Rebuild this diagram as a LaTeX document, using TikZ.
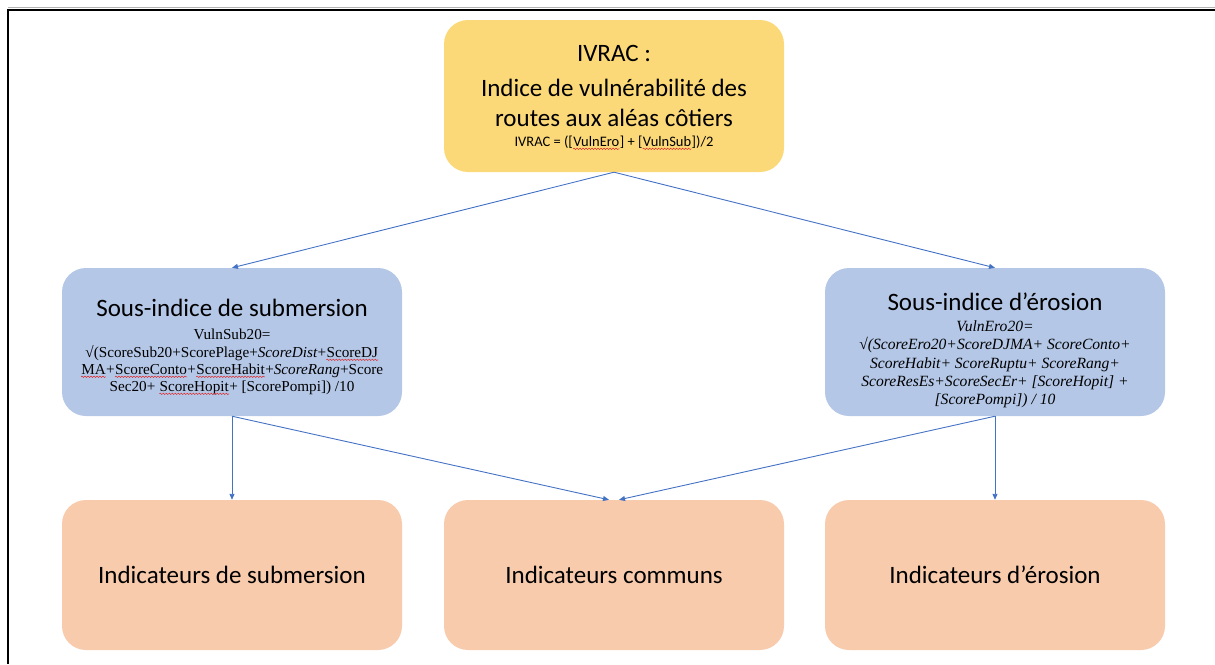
\documentclass[tikz,border=0pt]{standalone}
\usepackage{fontspec}
\setmainfont{Carlito}
\newfontfamily\formulafont{Liberation Serif}
\usetikzlibrary{arrows.meta,decorations.pathmorphing}
\definecolor{boxyellow}{RGB}{251,217,120}
\definecolor{boxblue}{RGB}{180,199,231}
\definecolor{boxorange}{RGB}{248,203,173}
\definecolor{linkblue}{RGB}{68,114,196}
\definecolor{spellred}{RGB}{220,40,40}
% red wavy underline for flagged words
\newcommand\redwave[1]{\tikz[baseline=(w.base),x=1pt,y=1pt]{\node[inner sep=0pt,anchor=base] (w) {#1};
  \draw[spellred, line width=0.5pt, decorate, decoration={snake,amplitude=0.7pt,segment length=3pt}]
    ([yshift=-2.8pt]w.base west) -- ([yshift=-2.8pt]w.base east);}}
\tikzset{
  box/.style={rounded corners=24pt, minimum width=340pt, inner sep=0pt},
  topbox/.style={box, fill=boxyellow, minimum height=152pt},
  subbox/.style={box, fill=boxblue, minimum height=148pt},
  indbox/.style={box, fill=boxorange, minimum height=150pt},
  title/.style={font=\fontsize{25}{28}\selectfont, inner sep=0pt, anchor=base},
  formula/.style={font=\formulafont\fontsize{15.2}{17}\selectfont, inner sep=0pt, anchor=base},
  iformula/.style={formula, font=\formulafont\itshape\fontsize{15.6}{17}\selectfont},
  link/.style={draw=linkblue, line width=0.9pt, -{Triangle[length=6pt,width=5pt]}}
}
\begin{document}
\begin{tikzpicture}[x=1pt,y=-1pt]
\useasboundingbox (0,0) rectangle (1215,664);
% page frame, top and left edges only
\draw[gray!60, line width=1pt] (8,7.5) -- (1215,7.5);
\draw[black, line width=2pt] (8,664) -- (8,9.5) -- (1215,9.5);

% boxes
\node[topbox] (ivrac) at (614,96) {};
\node[subbox] (sub) at (232,342) {};
\node[subbox] (ero) at (995,342) {};
\node[indbox] (indsub) at (232,575) {};
\node[indbox] (indcom) at (614,575) {};
\node[indbox] (indero) at (995,575) {};

% top box text
\node[title] (t1) at (614,61) {IVRAC :};
\node[title] (t2) at (614,96) {Indice de vulnérabilité des};
\node[title] (t3) at (614,126) {routes aux aléas côtiers};
\node[font=\fontsize{14.5}{16}\selectfont, inner sep=0pt, anchor=base] (t4) at (614,146) {IVRAC = ([\redwave{VulnEro}] + [\redwave{VulnSub}])/2};

% submersion sub-index text
\node[title] (s1) at (232,316) {Sous-indice de submersion};
\node[formula] (s2) at (232,339) {VulnSub20=};
\node[formula] (s3) at (232,357) {√(ScoreSub20+ScorePlage+\textit{ScoreDist}+\redwave{ScoreDJ}};
\node[formula] (s4) at (232,374) {\redwave{MA}+\redwave{ScoreConto}+\redwave{ScoreHabit}+\textit{ScoreRang}+Score};
\node[formula] (s5) at (232,391) {Sec20+ \redwave{ScoreHopit}+ [ScorePompi]) /10};

% erosion sub-index text
\node[title] (e1) at (995,310) {Sous-indice d’érosion};
\node[iformula] (e2) at (995,331) {VulnEro20=};
\node[iformula] (e3) at (995,349) {√(ScoreEro20+ScoreDJMA+ ScoreConto+};
\node[iformula] (e4) at (995,368) {ScoreHabit+ ScoreRuptu+ ScoreRang+};
\node[iformula] (e5) at (995,386) {ScoreResEs+ScoreSecEr+ [ScoreHopit] +};
\node[iformula] (e6) at (995,404) {[ScorePompi]) / 10};

% indicator labels
\node[title] (i1) at (232,583) {Indicateurs de submersion};
\node[title] (i2) at (614,583) {Indicateurs communs};
\node[title] (i3) at (995,583) {Indicateurs d’érosion};

% connectors
\draw[link] (ivrac.south) -- (sub.north);
\draw[link] (ivrac.south) -- (ero.north);
\draw[link] (sub.south) -- (indsub.north);
\draw[link] (sub.south) -- ([xshift=-5pt]indcom.north);
\draw[link] (ero.south) -- ([xshift=5pt]indcom.north);
\draw[link] (ero.south) -- (indero.north);
\end{tikzpicture}
\end{document}
